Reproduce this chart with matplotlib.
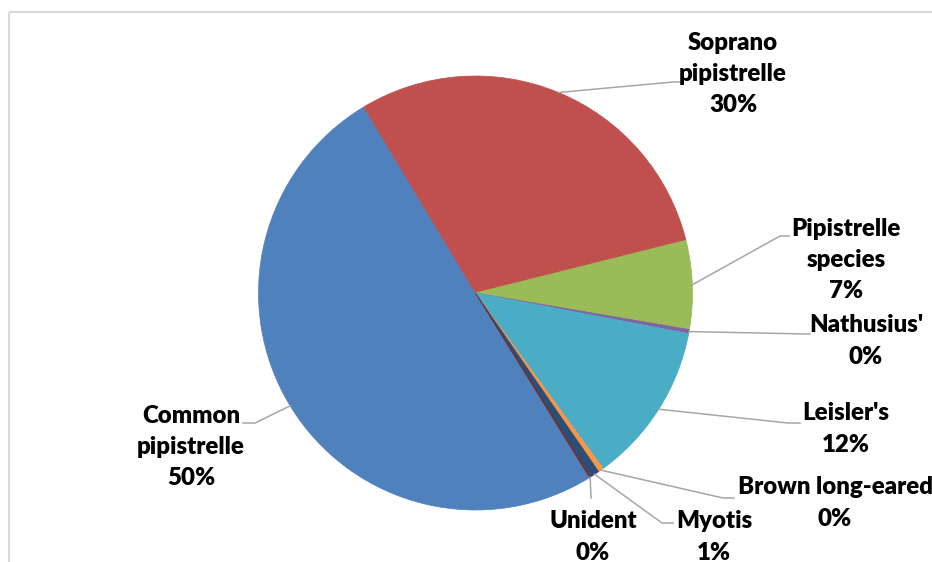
import matplotlib
matplotlib.use('Agg')
import matplotlib.pyplot as plt
import numpy as np

# ---- data ----
categories = ["Common\npipistrelle", "Soprano\npipistrelle", "Pipistrelle\nspecies",
              "Nathusius'", "Leisler's", "Brown long-eared", "Myotis", "Unident"]
values = [50.2, 29.7, 6.6, 0.3, 12.0, 0.4, 0.7, 0.1]
colors = ['#4F81BD', '#C0504D', '#9BBB59', '#8064A2', '#4BACC6', '#F79646', '#2C4D75', '#772C2A']

# ---- layout (pixel coords, y from top) ----
W, H = 932, 562
label_pos = [(191, 447), (733, 74), (846, 260), (866, 341), (846, 429), (835, 503), (714, 537), (593, 537)]
elbows = [(255, 423), (673, 82), (780, 236), (807, 334), (788, 423), (723, 498), (662, 523), (591, 497)]
ends = [(243, 423), (680, 82), (789, 236), (810, 334), (800, 423), (734, 498), (673, 523), (591, 498)]

fig = plt.figure(figsize=(W / 100, H / 100), dpi=100)
ax = fig.add_axes([0, 0, 1, 1])

cx, cy, R = 475.5, H - 293, 217
total = sum(values)
wedges, _ = ax.pie(values, colors=colors, startangle=-58.3, counterclock=False,
                   center=(cx, cy), radius=R, wedgeprops=dict(linewidth=0))
for w in wedges:
    w.set_edgecolor(w.get_facecolor())
    w.set_linewidth(0.5)

ax.set_xlim(0, W)
ax.set_ylim(0, H)
ax.set_aspect('equal')
ax.axis('off')

# chart-area border
ax.plot([8.5, W], [H - 12, H - 12], color='#d9d9d9', lw=1.5, solid_capstyle='butt')
ax.plot([8.5, 8.5], [H - 12, 0], color='#d9d9d9', lw=1.5, solid_capstyle='butt')

for w, cat, val, lp, el, en in zip(wedges, categories, values, label_pos, elbows, ends):
    mid = np.deg2rad((w.theta1 + w.theta2) / 2)
    sx, sy = cx + R * np.cos(mid), cy + R * np.sin(mid)
    ax.plot([sx, el[0], en[0]], [sy, H - el[1], H - en[1]], color='#a6a6a6', lw=1.1,
            solid_joinstyle='miter')
    pct = int(round(val / total * 100))
    ax.text(lp[0], H - lp[1], f"{cat}\n{pct}%", ha='center', va='center',
            fontfamily='Lato', fontweight='heavy', fontsize=17.3, linespacing=1.5,
            color='#000000', multialignment='center')

fig.savefig('out.png', dpi=100, facecolor='white')
